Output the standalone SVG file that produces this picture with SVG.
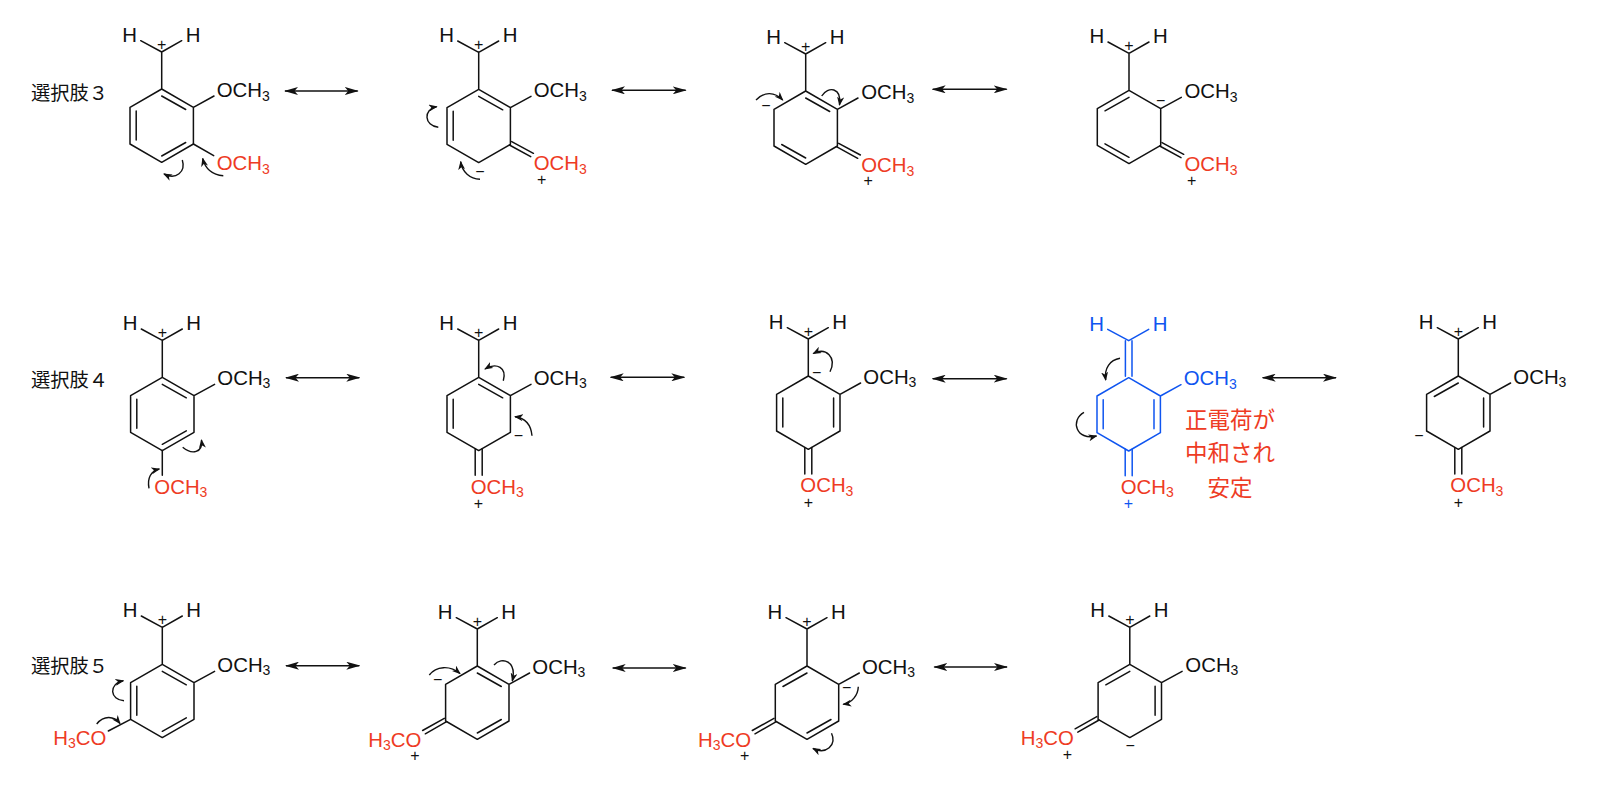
<svg xmlns="http://www.w3.org/2000/svg" width="1608" height="792" viewBox="0 0 1608 792">
<style>
text{font-family:"Liberation Sans","Noto Sans CJK JP",sans-serif;font-size:20.4px;fill:#111}
.bond{fill:none;stroke:#111;stroke-width:1.5;stroke-linecap:round;stroke-linejoin:round}
.blue .bond{stroke:#0f55f0}
.blue text{fill:#0f55f0}
text.red,.blue text.red{fill:#ee3b24}
.s{font-size:14px}
.c{font-size:16px;text-anchor:middle;transform:translateY(1px)}
.jp{font-family:"Noto Sans CJK JP","Liberation Sans",sans-serif;font-size:19.3px}
.note{font-family:"Noto Sans CJK JP",sans-serif;font-size:22.5px;text-anchor:middle;fill:#ee3b24}
.res{fill:none;stroke:#111;stroke-width:1.4;marker-start:url(#big);marker-end:url(#big)}
.curve{fill:none;stroke:#111;stroke-width:1.4;marker-end:url(#small)}
</style>
<defs>
<marker id="big" markerUnits="userSpaceOnUse" markerWidth="14" markerHeight="8" viewBox="0 0 14 8" refX="13" refY="4" orient="auto-start-reverse"><path d="M14 4L0 0L3.5 4L0 8Z" fill="#111"/></marker>
<marker id="small" markerUnits="userSpaceOnUse" markerWidth="9" markerHeight="7" viewBox="0 0 9 7" refX="8" refY="3.5" orient="auto"><path d="M9 3.5L0 0L2.5 3.5L0 7Z" fill="#111"/></marker>
<path id="base" d="M-21-48.3L0-37L20-48.3M0-37V0M0 0L31.7 18.3V55L0 73.3L-31.7 55V18.3ZM31.7 18.3L52.3 7"/>
<path id="baseb" d="M-21-48.3L0-37L20-48.3M-3.3-37V-1.5M3.3-37V-1.5M0 0L31.7 18.3V55L0 73.3L-31.7 55V18.3ZM31.7 18.3L52.3 7"/>
</defs>

<g id="connectors">
<path class="res" d="M285 91H357.7"/>
<path class="res" d="M612 90.3H685.7"/>
<path class="res" d="M932.7 89.3H1006.7"/>
<path class="res" d="M286 377.7H359.3"/>
<path class="res" d="M610.7 377.3H684.3"/>
<path class="res" d="M932.7 378.7H1006.7"/>
<path class="res" d="M1262.7 377.7H1336"/>
<path class="res" d="M286 665.7H359.3"/>
<path class="res" d="M612.7 668H685.7"/>
<path class="res" d="M934.3 667H1007"/>
<path class="curve" d="M182.3 160C186 172 176 180 164 174"/>
<path class="curve" d="M223.3 175.7C212 175 205 168 202.7 158.5"/>
<path class="curve" d="M438.3 127.3C424 126 423 109 436.7 106.7"/>
<path class="curve" d="M480 179.3C470 179 462 172 460.7 161.7"/>
<path class="curve" d="M756 100C764 92 774 91 782.7 100"/>
<path class="curve" d="M821.7 96C828 86 842 87 839.5 105"/>
<path class="curve" d="M182.7 447.3C192 455 203 453 201.5 440"/>
<path class="curve" d="M149 488.3C147 478 151 471 159.3 469"/>
<path class="curve" d="M503.3 380.7C507 368 497 362 485 369"/>
<path class="curve" d="M532 435.7C531 425 525 418 515 416.7"/>
<path class="curve" d="M830 371.7C837 357 826 347 813.3 353.5"/>
<path class="curve" d="M1120 358.3C1110 360 1104 368 1105.7 380"/>
<path class="curve" d="M1084 412.3C1070 420 1076 441 1096.5 436"/>
<path class="curve" d="M96.7 724C104 715 114 716 120 723.5"/>
<path class="curve" d="M124 700.7C110 700 108 684 123.3 680.7"/>
<path class="curve" d="M429.3 675C436 666 450 665 460 673.5"/>
<path class="curve" d="M494 665C502 656 517 661 512.3 681"/>
<path class="curve" d="M858.3 686.7C858 695 852 703 843.3 704.3"/>
<path class="curve" d="M831.5 733.3C837 745 826 755 813 748.5"/>
</g>

<g id="label3"><text class="jp" x="31" y="99.5">選択肢３</text></g>
<g id="label4"><text class="jp" x="31" y="386.5">選択肢４</text></g>
<g id="label5"><text class="jp" x="31" y="673">選択肢５</text></g>

<g id="r1m1" transform="translate(161.7 89)">
<use class="bond" href="#base"/><path class="bond" d="M0 7L24 20.5M-25.5 22V51M24 53.5L0 67M31.7 55L52 66.7"/>
<text x="-39.5" y="-47">H</text><text x="24" y="-47">H</text><text class="c" x="0" y="-40">+</text>
<text x="55" y="8">OCH<tspan class="s" dy="3.5">3</tspan></text>
<text class="red" x="55" y="81">OCH<tspan class="s" dy="3.5">3</tspan></text>
</g>
<g id="r1m2" transform="translate(478.7 89.3)">
<use class="bond" href="#base"/><path class="bond" d="M0 7L24 20.5M-25.5 22V51M33 52.3L54.7 64M30.7 55.7L52 67.3"/>
<text x="-39.5" y="-47">H</text><text x="24" y="-47">H</text><text class="c" x="0" y="-40">+</text>
<text x="55" y="8">OCH<tspan class="s" dy="3.5">3</tspan></text>
<text class="red" x="55" y="81">OCH<tspan class="s" dy="3.5">3</tspan></text>
<text class="c" x="1.3" y="86.4">−</text><text class="c" x="63" y="94.4">+</text>
</g>
<g id="r1m3" transform="translate(805.7 91)">
<use class="bond" href="#base"/><path class="bond" d="M0 7L24 20.5M-24 53.5L0 67M33 52.3L54.7 64M30.7 55.7L52 67.3"/>
<text x="-39.5" y="-47">H</text><text x="24" y="-47">H</text><text class="c" x="0" y="-40">+</text>
<text x="55.5" y="8">OCH<tspan class="s" dy="3.5">3</tspan></text>
<text class="red" x="55.5" y="81">OCH<tspan class="s" dy="3.5">3</tspan></text>
<text class="c" x="-39.7" y="19">−</text><text class="c" x="62.6" y="94.4">+</text>
</g>
<g id="r1m4" transform="translate(1129 90.3)">
<use class="bond" href="#base"/><path class="bond" d="M-24 20.5L0 7M-24 53.5L0 67M33 52.3L54.7 64M30.7 55.7L52 67.3"/>
<text x="-39.5" y="-47">H</text><text x="24" y="-47">H</text><text class="c" x="0" y="-40">+</text>
<text x="55.5" y="8">OCH<tspan class="s" dy="3.5">3</tspan></text>
<text class="red" x="55.5" y="81">OCH<tspan class="s" dy="3.5">3</tspan></text>
<text class="c" x="31.7" y="14.4">−</text><text class="c" x="62.7" y="94.4">+</text>
</g>

<g id="r2m1" transform="translate(162.3 377.3)">
<use class="bond" href="#base"/><path class="bond" d="M0 7L24 20.5M-25.5 22V51M24 53.5L0 67M0 73.3V98"/>
<text x="-39.5" y="-47">H</text><text x="24" y="-47">H</text><text class="c" x="0" y="-40">+</text>
<text x="55" y="7.5">OCH<tspan class="s" dy="3.5">3</tspan></text>
<text class="red" x="-8" y="116.3">OCH<tspan class="s" dy="3.5">3</tspan></text>
</g>
<g id="r2m2" transform="translate(478.7 377.3)">
<use class="bond" href="#base"/><path class="bond" d="M0 7L24 20.5M-25.5 22V51M-3.5 71.5V98M3.5 71.5V98"/>
<text x="-39.5" y="-47">H</text><text x="24" y="-47">H</text><text class="c" x="0" y="-40">+</text>
<text x="55" y="7.5">OCH<tspan class="s" dy="3.5">3</tspan></text>
<text class="red" x="-8" y="116.3">OCH<tspan class="s" dy="3.5">3</tspan></text>
<text class="c" x="39.7" y="62.4">−</text><text class="c" x="-0.4" y="130.7">+</text>
</g>
<g id="r2m3" transform="translate(808.3 376)">
<use class="bond" href="#base"/><path class="bond" d="M25.3 22V51M-25.5 22V51M-3.5 71.5V98M3.5 71.5V98"/>
<text x="-39.5" y="-47">H</text><text x="24" y="-47">H</text><text class="c" x="0" y="-40">+</text>
<text x="55" y="7.5">OCH<tspan class="s" dy="3.5">3</tspan></text>
<text class="red" x="-8" y="116.3">OCH<tspan class="s" dy="3.5">3</tspan></text>
<text class="c" x="8.4" y="1.4">−</text><text class="c" x="0" y="131">+</text>
</g>
<g id="r2m4" class="blue" transform="translate(1128.7 377.7)">
<use class="bond" href="#baseb"/><path class="bond" d="M25.3 22V51M-25.5 22V51M-3.5 71.5V98M3.5 71.5V98"/>
<text x="-39.5" y="-47">H</text><text x="24" y="-47">H</text>
<text x="55" y="7.5">OCH<tspan class="s" dy="3.5">3</tspan></text>
<text class="red" x="-8" y="116.3">OCH<tspan class="s" dy="3.5">3</tspan></text>
<text class="c" x="-0.4" y="130.3">+</text>
</g>
<g id="note">
<text class="note" x="1230" y="427.5">正電荷が</text>
<text class="note" x="1230" y="461">中和され</text>
<text class="note" x="1230" y="496">安定</text>
</g>
<g id="r2m5" transform="translate(1458.3 376)">
<use class="bond" href="#base"/><path class="bond" d="M-24 20.5L0 7M25.3 22V51M-3.5 71.5V98M3.5 71.5V98"/>
<text x="-39.5" y="-47">H</text><text x="24" y="-47">H</text><text class="c" x="0" y="-40">+</text>
<text x="55" y="7.5">OCH<tspan class="s" dy="3.5">3</tspan></text>
<text class="red" x="-8" y="116.3">OCH<tspan class="s" dy="3.5">3</tspan></text>
<text class="c" x="-39.3" y="63.7">−</text><text class="c" x="0" y="131">+</text>
</g>

<g id="r3m1" transform="translate(162.3 664.3)">
<use class="bond" href="#base"/><path class="bond" d="M0 7L24 20.5M-25.5 22V51M24 53.5L0 67M-31.7 55L-54 66.7"/>
<text x="-39.5" y="-47">H</text><text x="24" y="-47">H</text><text class="c" x="0" y="-40">+</text>
<text x="55" y="7.5">OCH<tspan class="s" dy="3.5">3</tspan></text>
<text class="red" x="-109" y="80.7">H<tspan class="s" dy="3.5">3</tspan><tspan dy="-3.5">CO</tspan></text>
</g>
<g id="r3m2" transform="translate(477.3 666)">
<use class="bond" href="#base"/><path class="bond" d="M0 7L24 20.5M24 53.5L0 67M-33 52.3L-54.7 64.5M-30.7 55.7L-52 67.8"/>
<text x="-39.5" y="-47">H</text><text x="24" y="-47">H</text><text class="c" x="0" y="-40">+</text>
<text x="55" y="7.5">OCH<tspan class="s" dy="3.5">3</tspan></text>
<text class="red" x="-109" y="80.7">H<tspan class="s" dy="3.5">3</tspan><tspan dy="-3.5">CO</tspan></text>
<text class="c" x="-39.6" y="18">−</text><text class="c" x="-62.4" y="94.4">+</text>
</g>
<g id="r3m3" transform="translate(807 666)">
<use class="bond" href="#base"/><path class="bond" d="M-24 20.5L0 7M24 53.5L0 67M-33 52.3L-54.7 64.5M-30.7 55.7L-52 67.8"/>
<text x="-39.5" y="-47">H</text><text x="24" y="-47">H</text><text class="c" x="0" y="-40">+</text>
<text x="55" y="7.5">OCH<tspan class="s" dy="3.5">3</tspan></text>
<text class="red" x="-109" y="80.7">H<tspan class="s" dy="3.5">3</tspan><tspan dy="-3.5">CO</tspan></text>
<text class="c" x="39.7" y="26.4">−</text><text class="c" x="-62.4" y="94.4">+</text>
</g>
<g id="r3m4" transform="translate(1129.8 664.3)">
<use class="bond" href="#base"/><path class="bond" d="M-24 20.5L0 7M25.3 22V51M-33 52.3L-54.7 64.5M-30.7 55.7L-52 67.8"/>
<text x="-39.5" y="-47">H</text><text x="24" y="-47">H</text><text class="c" x="0" y="-40">+</text>
<text x="55.5" y="7.5">OCH<tspan class="s" dy="3.5">3</tspan></text>
<text class="red" x="-109" y="80.7">H<tspan class="s" dy="3.5">3</tspan><tspan dy="-3.5">CO</tspan></text>
<text class="c" x="0.3" y="86">−</text><text class="c" x="-62.5" y="94.4">+</text>
</g>
</svg>
